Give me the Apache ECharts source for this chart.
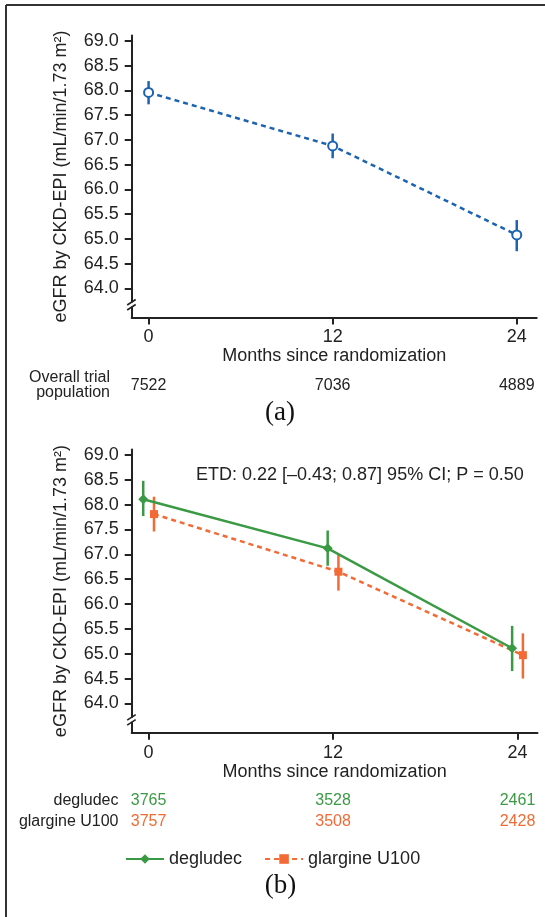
<!DOCTYPE html>
<html><head><meta charset="utf-8">
<script src="https://cdn.jsdelivr.net/npm/echarts@6/dist/echarts.min.js"></script>
<style>html,body{margin:0;padding:0;background:#fff}#c{width:545px;height:917px}</style>
</head><body><div id="c"></div>
<script>
// ---- data ----
const months = [0, 12, 24];
const yTicks = [64.0, 64.5, 65.0, 65.5, 66.0, 66.5, 67.0, 67.5, 68.0, 68.5, 69.0];
const overallMean = [67.96, 66.88, 65.08];
const overallLow  = [67.72, 66.63, 64.75];
const overallHigh = [68.19, 67.13, 65.38];
const overallN = [7522, 7036, 4889];
const degMean = [68.11, 67.12, 65.11];
const degLow  = [67.77, 66.77, 64.65];
const degHigh = [68.48, 67.48, 65.56];
const degN = [3765, 3528, 2461];
const glaMean = [67.81, 66.65, 64.97];
const glaLow  = [67.46, 66.27, 64.50];
const glaHigh = [68.16, 67.00, 65.41];
const glaN = [3757, 3508, 2428];
const etdText = 'ETD: 0.22 [\u20130.43; 0.87] 95% CI; P = 0.50';

// ---- style ----
const DODGE = 0.35;
const FONT = '"Liberation Sans", Arial, Helvetica, sans-serif';
const INK = '#222';
const BLUE = '#1c63b0', GREEN = '#3a9a43', ORANGE = '#f36a35';

const chart = echarts.init(document.getElementById('c'), null, {renderer: 'canvas'});

function xAx(gi) {
  return {
    type: 'value', gridIndex: gi, min: -1.1, max: 25.3,
    axisLine: {show: true, onZero: false, lineStyle: {color: INK, width: 2}},
    axisTick: {show: true, length: 7, customValues: months, lineStyle: {color: INK, width: 2}},
    axisLabel: {customValues: months, fontSize: 18, color: INK, margin: 11, fontFamily: FONT},
    splitLine: {show: false},
    name: 'Months since randomization', nameLocation: 'middle', nameGap: 30,
    nameTextStyle: {fontSize: 18, color: INK, fontFamily: FONT}
  };
}
function yAx(gi) {
  return {
    type: 'value', gridIndex: gi, min: 63.41, max: 69.11,
    axisLine: {show: true, onZero: false, lineStyle: {color: INK, width: 2}},
    axisTick: {show: true, length: 7, customValues: yTicks, lineStyle: {color: INK, width: 2}},
    axisLabel: {customValues: yTicks, formatter: v => Number(v).toFixed(1), fontSize: 18, color: INK, margin: 13, fontFamily: FONT},
    splitLine: {show: false},
    name: 'eGFR by CKD-EPI (mL/min/1.73 m\u00B2)', nameLocation: 'middle', nameGap: 62,
    nameTextStyle: {fontSize: 18, color: INK, fontFamily: FONT}
  };
}
function errSeries(name, gi, xs, lo, hi, color) {
  return {
    type: 'custom', name: name, xAxisIndex: gi, yAxisIndex: gi, z: 2, silent: true,
    data: xs.map((x, i) => [x, lo[i], hi[i]]),
    encode: {x: 0, y: [1, 2]},
    renderItem: function (params, api) {
      const x = api.value(0);
      const a = api.coord([x, api.value(1)]);
      const b = api.coord([x, api.value(2)]);
      return {type: 'line', shape: {x1: a[0], y1: a[1], x2: b[0], y2: b[1]},
              style: {stroke: color, lineWidth: 2.5}};
    }
  };
}

const degX = months.map(m => m - DODGE);
const glaX = months.map(m => m + DODGE);

chart.setOption({
  animation: false,
  textStyle: {fontFamily: FONT},
  grid: [
    {left: 131.7, right: 8.3, top: 35.6, height: 281.9},
    {left: 131.7, right: 7.5, top: 449.5, height: 283.2}
  ],
  xAxis: [xAx(0), xAx(1)],
  yAxis: [yAx(0), yAx(1)],
  legend: {
    data: ['degludec', 'glargine U100'], left: 120, top: 845,
    itemWidth: 38, itemHeight: 12, itemGap: 22,
    textStyle: {fontSize: 18, color: INK, fontFamily: FONT}
  },
  series: [
    errSeries('ci-overall', 0, months, overallLow, overallHigh, BLUE),
    {
      type: 'line', name: 'overall', xAxisIndex: 0, yAxisIndex: 0, z: 3,
      data: months.map((m, i) => [m, overallMean[i]]),
      symbol: 'emptyCircle', symbolSize: 9,
      lineStyle: {color: BLUE, width: 2.5, type: [5, 4]},
      itemStyle: {color: BLUE, borderWidth: 2.2}
    },
    errSeries('ci-deg', 1, degX, degLow, degHigh, GREEN),
    errSeries('ci-gla', 1, glaX, glaLow, glaHigh, ORANGE),
    {
      type: 'line', name: 'glargine U100', xAxisIndex: 1, yAxisIndex: 1, z: 3,
      data: glaX.map((x, i) => [x, glaMean[i]]),
      symbol: 'rect', symbolSize: 8,
      lineStyle: {color: ORANGE, width: 2.5, type: [5, 4]},
      itemStyle: {color: ORANGE}
    },
    {
      type: 'line', name: 'degludec', xAxisIndex: 1, yAxisIndex: 1, z: 4,
      data: degX.map((x, i) => [x, degMean[i]]),
      symbol: 'diamond', symbolSize: 10,
      lineStyle: {color: GREEN, width: 2.5},
      itemStyle: {color: GREEN}
    }
  ]
});

// ---- decorations placed through the axes ----
const els = [];
// frame
els.push({type: 'line', shape: {x1: 6, y1: 5, x2: 545, y2: 5}, style: {stroke: '#333', lineWidth: 2}});
els.push({type: 'line', shape: {x1: 6, y1: 5, x2: 6, y2: 917}, style: {stroke: '#333', lineWidth: 2}});

function breakMark(gi) {
  const p = chart.convertToPixel({gridIndex: gi}, [-1.1, 63.41]);
  const ax = p[0], yc = p[1] - 12;
  els.push({type: 'rect', shape: {x: ax - 3, y: yc - 3, width: 6, height: 4}, style: {fill: '#fff'}, z: 50});
  els.push({type: 'line', shape: {x1: ax - 4.5, y1: yc - 0.5, x2: ax + 4, y2: yc - 6}, style: {stroke: INK, lineWidth: 1.6}, z: 51});
  els.push({type: 'line', shape: {x1: ax - 4.5, y1: yc + 4.5, x2: ax + 4, y2: yc - 1}, style: {stroke: INK, lineWidth: 1.6}, z: 51});
}
breakMark(0); breakMark(1);

function txt(x, y, s, opt) {
  els.push({type: 'text', x: x, y: y, z: 60,
    style: Object.assign({text: s, fill: INK, font: '16px ' + FONT, textAlign: 'center', textVerticalAlign: 'middle'}, opt || {})});
}
// table (a)
txt(110, 377.5, 'Overall trial', {textAlign: 'right'});
txt(110, 393, 'population', {textAlign: 'right'});
months.forEach((m, i) => {
  const px = chart.convertToPixel({gridIndex: 0}, [m, 66])[0];
  txt(px, 386, String(overallN[i]));
});
txt(280, 413, '(a)', {font: '27px "Liberation Serif", "Times New Roman", serif', fill: '#111'});

// ETD
txt(196, 475, etdText, {textAlign: 'left', font: '18px ' + FONT});

// table (b)
txt(118.5, 801, 'degludec', {textAlign: 'right'});
txt(118.5, 822, 'glargine U100', {textAlign: 'right'});
months.forEach((m, i) => {
  const px = chart.convertToPixel({gridIndex: 1}, [m, 66])[0];
  txt(px, 801, String(degN[i]), {fill: GREEN});
  txt(px, 822, String(glaN[i]), {fill: ORANGE});
});
txt(280.5, 886, '(b)', {font: '27px "Liberation Serif", "Times New Roman", serif', fill: '#111'});

chart.setOption({graphic: {elements: els}});
</script>
</body></html>
